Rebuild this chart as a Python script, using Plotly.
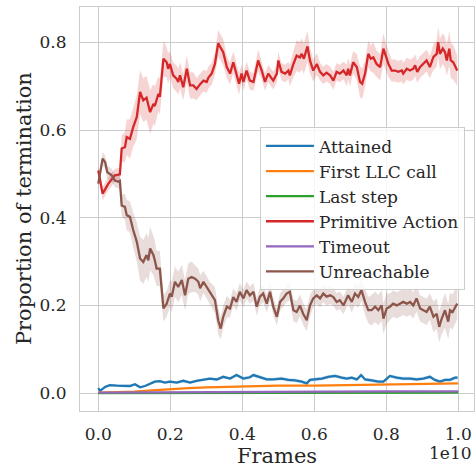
import plotly.graph_objects as go

FRAME_SCALE = 1e10
FONT = "DejaVu Serif"

series_names = ["Attained", "First LLC call", "Last step", "Primitive Action", "Timeout", "Unreachable"]
series_colors = ["#1f77b4", "#ff7f0e", "#2ca02c", "#d62728", "#9467bd", "#8c564b"]
band_colors = {"Attained": "rgba(31,119,180,0.22)", "Primitive Action": "rgba(214,39,40,0.2)",
               "Unreachable": "rgba(140,86,75,0.2)"}

x_tick_vals = [0.0, 0.2, 0.4, 0.6, 0.8, 1.0]
x_tick_labels = ["0.0", "0.2", "0.4", "0.6", "0.8", "1.0"]
y_tick_vals = [0.0, 0.2, 0.4, 0.6, 0.8]
y_tick_labels = ["0.0", "0.2", "0.4", "0.6", "0.8"]

attained_x = [0, .005, .019, .032, .051, .069, .088, .102, .116, .13,
              .144, .157, .171, .185, .199, .218, .236, .255, .273, .292,
              .31, .329, .347, .366, .384, .403, .421, .431, .449, .468,
              .486, .509, .528, .546, .565, .579, .588, .602, .621, .639,
              .658, .676, .69, .704, .718, .73, .741, .759, .778, .792,
              .81, .829, .847, .866, .884, .903, .921, .935, .949, .963,
              .977, .991, .998]
attained_y = [.011, .005, .014, .018, .017, .016, .016, .02, .013, .016,
              .022, .026, .027, .024, .026, .024, .028, .024, .028, .031,
              .033, .031, .037, .033, .041, .033, .036, .041, .036, .031,
              .031, .033, .03, .029, .026, .022, .03, .031, .033, .037,
              .039, .035, .033, .035, .031, .041, .031, .029, .026, .026,
              .039, .035, .033, .033, .031, .033, .037, .03, .026, .03,
              .03, .035, .035]
attained_band = [.003] * 24 + [.004] * 39

llc_x = [0, .05, .1, .15, .2, .25, .3, .35, .4, .5, .6, .7, .8, .85, .9, .95, 1.0]
llc_y = [0.001, 0.002, 0.003, 0.006, 0.009, 0.011, 0.013, 0.014, 0.016, 0.017, 0.017, 0.018,
         0.02, 0.019, 0.02, 0.02, 0.022]

last_x = [0, .2, .4, .6, .8, 1.0]
last_y = [0.0, 0.0005, 0.001, 0.001, 0.001, 0.001]

timeout_x = [0, .2, .4, .6, .8, 1.0]
timeout_y = [0.001, 0.002, 0.003, 0.003, 0.004, 0.004]

primitive_x = [0, .012, .028, .046, .06, .065, .074, .079, .088, .097,
               .107, .116, .125, .134, .144, .153, .157, .167, .171, .181,
               .19, .194, .199, .208, .218, .222, .227, .236, .246, .255,
               .264, .273, .283, .292, .301, .306, .315, .324, .333, .347,
               .357, .366, .375, .384, .391, .398, .403, .412, .421, .431,
               .444, .454, .463, .472, .486, .496, .5, .509, .519, .528,
               .532, .542, .551, .56, .565, .571, .581, .588, .597, .607,
               .616, .625, .634, .644, .653, .662, .671, .681, .69, .694,
               .699, .708, .718, .727, .733, .741, .75, .757, .764, .773,
               .783, .792, .799, .806, .815, .824, .833, .843, .847, .857,
               .866, .875, .88, .886, .894, .903, .912, .921, .931, .94,
               .944, .949, .957, .963, .968, .975, .979, .986, .997]
primitive_y = [.508, .455, .478, .497, .499, .558, .561, .584, .58, .607,
               .63, .687, .668, .674, .641, .66, .655, .683, .676, .763,
               .755, .74, .751, .725, .717, .71, .725, .698, .74, .702,
               .702, .694, .705, .713, .71, .72, .729, .751, .798, .778,
               .744, .729, .755, .725, .706, .729, .71, .736, .713, .71,
               .759, .736, .71, .729, .713, .729, .759, .733, .729, .736,
               .725, .751, .77, .766, .774, .763, .791, .759, .736, .751,
               .733, .725, .731, .725, .713, .733, .729, .736, .725, .74,
               .725, .755, .744, .71, .706, .729, .774, .763, .766, .751,
               .744, .786, .767, .751, .736, .736, .733, .736, .729, .74,
               .736, .74, .748, .733, .744, .751, .759, .744, .767, .774,
               .801, .774, .786, .778, .759, .786, .759, .755, .736]
primitive_band = [.012, .015, .015, .015, .015, .03, .035, .04, .045, .045,
                  .05, .05, .05, .05, .05, .045, .045, .04, .04, .04,
                  .035, .035, .03, .03, .03, .03, .03, .03, .03, .03,
                  .03, .025, .025, .025, .025, .025, .025, .025, .03, .03,
                  .025, .025, .025, .025, .025, .02, .02, .02, .02, .02,
                  .025, .02, .02, .02, .02, .02, .02, .02, .02, .02,
                  .025, .03, .035, .035, .035, .035, .035, .03, .025, .025,
                  .02, .02, .02, .02, .02, .02, .02, .02, .025, .025,
                  .025, .025, .03, .035, .035, .03, .03, .03, .035, .03,
                  .03, .035, .03, .03, .025, .025, .025, .025, .025, .025,
                  .025, .025, .025, .025, .025, .025, .025, .025, .03, .03,
                  .035, .035, .035, .035, .035, .04, .04, .04, .035]

unreach_x = [0, .012, .019, .025, .037, .046, .056, .06, .065, .074,
             .079, .088, .097, .107, .116, .125, .134, .139, .144, .153,
             .157, .162, .171, .181, .19, .199, .204, .213, .222, .232,
             .241, .25, .259, .269, .278, .283, .292, .301, .31, .324,
             .333, .34, .347, .357, .366, .375, .384, .393, .403, .412,
             .421, .431, .44, .449, .458, .468, .477, .486, .496, .505,
             .514, .523, .532, .542, .551, .56, .569, .579, .588, .597,
             .607, .616, .625, .634, .644, .653, .662, .671, .681, .69,
             .694, .704, .713, .722, .731, .741, .75, .759, .769, .778,
             .787, .792, .801, .81, .819, .829, .838, .847, .857, .866,
             .875, .884, .894, .903, .912, .921, .931, .94, .947, .954,
             .963, .972, .977, .984, .991, .997]
unreach_y = [.478, .535, .527, .504, .497, .485, .482, .484, .428, .425,
             .406, .402, .372, .345, .307, .299, .315, .303, .33, .315,
             .303, .284, .284, .193, .204, .227, .22, .254, .242, .258,
             .223, .261, .265, .261, .254, .239, .254, .242, .228, .212,
             .166, .147, .174, .197, .193, .219, .208, .231, .216, .235,
             .223, .231, .197, .22, .227, .204, .231, .197, .174, .208,
             .216, .227, .231, .189, .185, .2, .181, .166, .2, .216,
             .223, .216, .227, .22, .223, .219, .208, .212, .2, .216,
             .223, .208, .227, .219, .235, .208, .189, .189, .197, .189,
             .2, .17, .193, .197, .204, .2, .204, .208, .204, .208,
             .2, .216, .193, .189, .185, .197, .174, .181, .151, .17,
             .189, .163, .189, .185, .197, .204]
unreach_band = [.01, .015, .015, .015, .015, .015, .015, .02, .025, .03,
                .035, .035, .04, .045, .05, .05, .05, .05, .05, .045,
                .045, .04, .04, .03, .03, .03, .035, .035, .035, .035,
                .035, .035, .035, .03, .03, .03, .025, .025, .025, .03,
                .03, .025, .025, .025, .02, .02, .02, .02, .02, .02,
                .02, .02, .02, .02, .02, .02, .02, .02, .02, .02,
                .02, .02, .02, .025, .025, .025, .025, .025, .025, .02,
                .02, .02, .02, .02, .02, .02, .02, .02, .02, .02,
                .02, .025, .025, .025, .025, .03, .03, .035, .035, .035,
                .035, .035, .035, .03, .03, .03, .03, .03, .03, .03,
                .03, .03, .03, .03, .03, .03, .035, .035, .035, .035,
                .04, .04, .04, .04, .04, .035]

series = {
    "Attained": (attained_x, attained_y, attained_band),
    "First LLC call": (llc_x, llc_y, None),
    "Last step": (last_x, last_y, None),
    "Primitive Action": (primitive_x, primitive_y, primitive_band),
    "Timeout": (timeout_x, timeout_y, None),
    "Unreachable": (unreach_x, unreach_y, unreach_band),
}

fig = go.Figure()
for name, color in zip(series_names, series_colors):
    xs, ys, band = series[name]
    fx = [v * FRAME_SCALE for v in xs]
    if band is not None:
        upper = [y + b for y, b in zip(ys, band)]
        lower = [y - b for y, b in zip(ys, band)]
        fig.add_trace(go.Scatter(x=fx + fx[::-1], y=upper + lower[::-1], fill="toself",
                                 fillcolor=band_colors[name], line=dict(width=0),
                                 mode="lines", showlegend=False, hoverinfo="skip"))
    fig.add_trace(go.Scatter(x=fx, y=ys, mode="lines", name=name,
                             line=dict(color=color, width=2.3)))

grid = "#cccccc"
fig.update_layout(
    width=476, height=468,
    margin=dict(l=80, r=2, t=7, b=57),
    plot_bgcolor="white", paper_bgcolor="white",
    font=dict(family=FONT, size=17, color="#262626"),
    legend=dict(x=0.977, y=0.702, xanchor="right", yanchor="top", itemwidth=48,
                bgcolor="rgba(255,255,255,0.8)", bordercolor=grid, borderwidth=1,
                font=dict(family="DejaVu Serif, serif", size=17, color="#262626")),
)
fig.update_xaxes(range=[-0.0508 * FRAME_SCALE, 1.0436 * FRAME_SCALE],
                 tickvals=[v * FRAME_SCALE for v in x_tick_vals], ticktext=x_tick_labels,
                 showgrid=True, gridcolor=grid, gridwidth=1,
                 showline=True, linecolor=grid, linewidth=1, mirror=True,
                 ticks="outside", ticklen=8, tickcolor="rgba(0,0,0,0)",
                 zeroline=False, automargin=False,
                 title=dict(text="Frames", font=dict(family=FONT, size=21), standoff=0))
fig.update_yaxes(range=[-0.041, 0.881], tickvals=y_tick_vals, ticktext=y_tick_labels,
                 showgrid=True, gridcolor=grid, gridwidth=1,
                 showline=True, linecolor=grid, linewidth=1, mirror=True,
                 ticks="outside", ticklen=9, tickcolor="rgba(0,0,0,0)",
                 zeroline=False, automargin=False)
fig.add_annotation(text="Proportion of termination", xref="paper", yref="paper",
                   x=-0.142, y=0.5, xanchor="center", yanchor="middle", textangle=-90,
                   showarrow=False, font=dict(family=FONT, size=21, color="#262626"))
fig.add_annotation(text="1e10", xref="paper", yref="paper", x=1.0, y=-0.105,
                   xanchor="right", yanchor="middle", showarrow=False,
                   font=dict(family=FONT, size=17, color="#262626"))
fig.write_html("out.html", config={"displayModeBar": False},
               post_script="document.body.style.margin='0px';")
